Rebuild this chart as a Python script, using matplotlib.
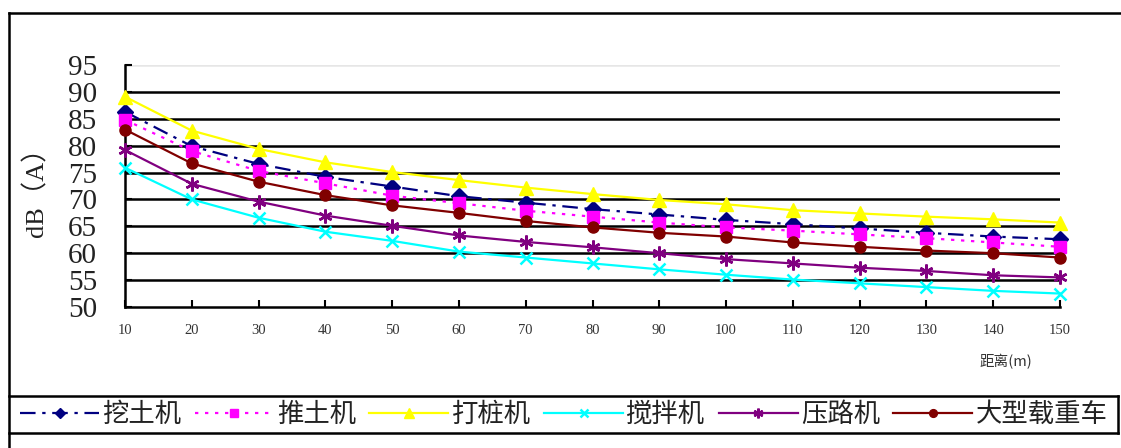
import numpy as np
import matplotlib
matplotlib.use("Agg")
import matplotlib.pyplot as plt
from matplotlib.lines import Line2D

plt.rcParams['font.family'] = ['Liberation Serif', 'Noto Sans CJK SC', 'DejaVu Sans']

distance = [10, 20, 30, 40, 50, 60, 70, 80, 90, 100, 110, 120, 130, 140, 150]

excavator = [86.3, 79.9, 76.6, 74.2, 72.4, 70.6, 69.4, 68.2, 67.2, 66.2, 65.4, 64.6, 63.8, 63.1, 62.6]
bulldozer = [84.8, 79.0, 75.3, 73.0, 70.7, 69.3, 67.9, 66.8, 65.7, 64.8, 64.2, 63.5, 62.8, 62.0, 61.2]
pile_driver = [89.1, 82.8, 79.4, 76.9, 75.1, 73.6, 72.2, 71.0, 69.9, 69.1, 68.0, 67.4, 66.8, 66.3, 65.7]
mixer = [75.9, 70.0, 66.6, 64.0, 62.3, 60.3, 59.2, 58.1, 57.0, 56.0, 55.1, 54.4, 53.7, 53.0, 52.5]
roller = [79.2, 72.9, 69.6, 67.0, 65.1, 63.3, 62.1, 61.1, 60.0, 58.9, 58.1, 57.3, 56.7, 55.9, 55.5]
truck = [83.0, 76.7, 73.3, 70.8, 68.9, 67.5, 66.0, 64.8, 63.8, 63.1, 62.0, 61.2, 60.5, 60.0, 59.2]

labels = ['挖土机', '推土机', '打桩机', '搅拌机', '压路机', '大型载重车']
yticks = [50, 55, 60, 65, 70, 75, 80, 85, 90, 95]

W, H = 1121, 448
fig = plt.figure(figsize=(W / 100, H / 100), dpi=100)
ax = fig.add_axes([125 / W, 1 - 307 / H, (1060 - 125) / W, (307 - 65) / H])

styles = [
    dict(color='#000080', ls=(0, (7, 3, 1.5, 3)), marker='D', ms=8, mfc='#000080', mec='#000080'),
    dict(color='#FF00FF', ls=(0, (1.5, 3)), marker='s', ms=8, mfc='#FF00FF', mec='#FF00FF'),
    dict(color='#FFFF00', ls='-', marker='^', ms=10, mfc='#FFFF00', mec='#FFFF00'),
    dict(color='#00FFFF', ls='-', marker='x', ms=8, mew=1.8, mec='#00FFFF'),
    dict(color='#800080', ls='-', marker=(6, 2, 0), ms=10, mew=1.8, mec='#800080'),
    dict(color='#800000', ls='-', marker='o', ms=8, mfc='#800000', mec='#800000'),
]
series = [excavator, bulldozer, pile_driver, mixer, roller, truck]

handles = []
for vals, st, lab in zip(series, styles, labels):
    h, = ax.plot(distance, vals, lw=1.6, clip_on=False, zorder=3, label=lab, **st)
    handles.append(h)

# horizontal grid lines, the top one pale grey
for v in yticks[1:-1]:
    ax.axhline(v, color='black', lw=1.8, zorder=1)
ax.axhline(yticks[-1], color='#e6e6e6', lw=1.8, zorder=1)

ax.set_xlim(distance[0], distance[-1])
ax.set_ylim(yticks[0], yticks[-1])
ax.set_xticks(distance)
ax.set_yticks(yticks)
for s in ['top', 'right']:
    ax.spines[s].set_visible(False)
for s in ['left', 'bottom']:
    ax.spines[s].set_linewidth(1.8)
ax.tick_params(axis='y', direction='in', length=5, width=1.5, labelsize=21, pad=20,
               labelcolor='#222222')
ax.tick_params(axis='x', direction='in', length=5, width=1.5, labelsize=10.5, pad=12,
               labelcolor='#333333')
ax.set_ylabel('dB（A）', fontsize=19, labelpad=14, color='#222222')

fig.text(980 / W, 1 - 362 / H, '距离(m)', fontsize=10.5, va='center', ha='left',
         color='#333333', family=['Noto Sans CJK SC', 'DejaVu Sans'])

# outer frame and legend box
fl = dict(color='black', lw=1.8, transform=fig.transFigure)
fig.add_artist(Line2D([9 / W, 1], [1 - 13 / H, 1 - 13 / H], **fl))
fig.add_artist(Line2D([9 / W, 9 / W], [0, 1 - 13 / H], **fl))
fig.add_artist(Line2D([9 / W, 1118 / W], [1 - 396 / H, 1 - 396 / H], **fl))
fig.add_artist(Line2D([9 / W, 1118 / W], [1 - 433 / H, 1 - 433 / H], **fl))
fig.add_artist(Line2D([1118 / W, 1118 / W], [1 - 433 / H, 1 - 396 / H], **fl))

leg = fig.legend(handles, labels, loc='center left', ncol=6, frameon=False,
                 bbox_to_anchor=(20 / W, 1 - 414.5 / H),
                 handlelength=3.0, handletextpad=0.12, columnspacing=0.5,
                 borderaxespad=0, borderpad=0.0, markerscale=0.7,
                 prop={'family': ['Noto Sans CJK SC', 'DejaVu Sans'], 'size': 19})
for t in leg.get_texts():
    t.set_color('#222222')

fig.savefig('out.png', dpi=100)
